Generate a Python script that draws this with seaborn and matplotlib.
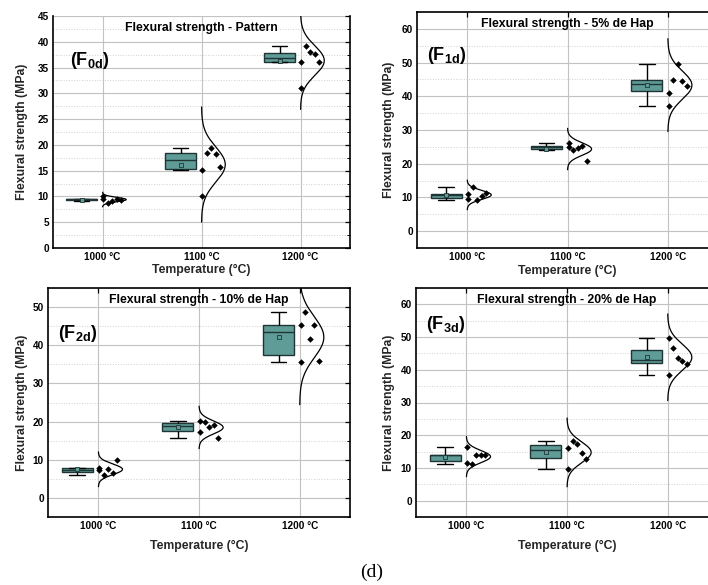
import numpy as np
import pandas as pd
import matplotlib
matplotlib.use('Agg')
import matplotlib.pyplot as plt
import matplotlib.transforms as mtransforms
from matplotlib.ticker import MultipleLocator
import seaborn as sns

# categories
temps = ['1000 °C', '1100 °C', '1200 °C']

# flexural strength (MPa), one list per temperature
f0d_1000 = [10.0, 8.7, 9.2, 9.55, 9.4, 9.5]
f0d_1100 = [15.2, 18.4, 19.3, 18.3, 15.8, 10.1]
f0d_1200 = [36.15, 39.2, 38.0, 37.6, 36.15, 31.0]

f1d_1000 = [11.0, 13.0, 9.3, 10.4, 11.2, 9.6]
f1d_1100 = [26.2, 24.2, 24.7, 25.2, 20.8, 25.0]
f1d_1200 = [41.0, 44.9, 49.5, 44.4, 43.0, 37.0]

f2d_1000 = [7.2, 5.9, 7.6, 6.5, 9.9, 7.85]
f2d_1100 = [20.2, 19.8, 18.7, 19.1, 15.7, 17.3]
f2d_1200 = [45.3, 48.7, 41.7, 45.3, 36.0, 35.6]

f3d_1000 = [16.3, 11.2, 13.9, 13.9, 13.9, 11.6]
f3d_1100 = [16.2, 18.2, 17.2, 14.6, 12.7, 9.6]
f3d_1200 = [49.8, 46.8, 43.5, 42.7, 41.8, 38.3]

titles = ['Flexural strength - Pattern', 'Flexural strength - 5% de Hap',
          'Flexural strength - 10% de Hap', 'Flexural strength - 20% de Hap']
tags = [r'(F$_{0d}$)', r'(F$_{1d}$)', r'(F$_{2d}$)', r'(F$_{3d}$)']

sns.set_theme(style='white')
plt.rcParams['font.family'] = ['Liberation Sans', 'DejaVu Sans']
plt.rcParams['font.weight'] = 'bold'
plt.rcParams['axes.labelweight'] = 'bold'
plt.rcParams['mathtext.default'] = 'regular'

W, H = 708, 585
fig = plt.figure(figsize=(W / 100, H / 100), dpi=100)

def px_rect(l, t, r, b):
    return [l / W, 1 - b / H, (r - l) / W, (b - t) / H]

# right-hand panels run past the page edge, as in the original
panels = [
    dict(vals=[f0d_1000, f0d_1100, f0d_1200], rect=px_rect(53, 16, 350, 248),
         ylim=(0, 45), step=5, tag_x=0.057, tag_y=0.81, ylab=25, xlab=16, top=False),
    dict(vals=[f1d_1000, f1d_1100, f1d_1200], rect=px_rect(417, 12, 718, 248),
         ylim=(-5, 65), step=10, tag_x=0.034, tag_y=0.815, ylab=22, xlab=17, top=True),
    dict(vals=[f2d_1000, f2d_1100, f2d_1200], rect=px_rect(48, 288, 350, 517),
         ylim=(-5, 55), step=10, tag_x=0.033, tag_y=0.80, ylab=20, xlab=23, top=True),
    dict(vals=[f3d_1000, f3d_1100, f3d_1200], rect=px_rect(416, 288, 718, 517),
         ylim=(-5, 65), step=10, tag_x=0.033, tag_y=0.84, ylab=21, xlab=23, top=True),
]

box_col = '#5f9b97'
edge_col = '#1f3535'

for k, p in enumerate(panels):
    ax = fig.add_axes(p['rect'])
    ax.set_axisbelow(True)

    box_rows, pt_rows = [], []
    for i, grp in enumerate(p['vals']):
        for j, v in enumerate(grp):
            box_rows.append((i - 0.21, v))
            pt_rows.append((i + 0.01 + 0.045 * (j % 5), v))
    df_box = pd.DataFrame(box_rows, columns=['pos', 'strength'])
    df_pts = pd.DataFrame(pt_rows, columns=['pos', 'strength'])

    sns.boxplot(data=df_box, x='pos', y='strength', native_scale=True, orient='x',
                width=0.31, color=box_col, saturation=1, linecolor=edge_col,
                linewidth=1.0, showfliers=False, showmeans=True,
                meanprops=dict(marker='s', markersize=2.6, markerfacecolor=box_col,
                               markeredgecolor=edge_col, markeredgewidth=0.6),
                whiskerprops=dict(color='black'), capprops=dict(color='black'),
                ax=ax)
    sns.scatterplot(data=df_pts, x='pos', y='strength', marker='D', s=11,
                    color='black', edgecolor='black', linewidth=0, ax=ax, zorder=4)

    # normal distribution curve from each group's mean and sd
    for i, grp in enumerate(p['vals']):
        m, s = np.mean(grp), np.std(grp, ddof=1)
        yy = np.linspace(m - 3.3 * s, m + 3.3 * s, 200)
        dens = np.exp(-0.5 * ((yy - m) / s) ** 2)
        ax.plot(i + 0.24 * dens, yy, color='black', lw=0.9, zorder=3)

    ax.set_xlim(-0.5, 2.5)
    ax.set_ylim(*p['ylim'])
    ax.set_xticks([0, 1, 2])
    ax.set_xticklabels(temps)
    ax.yaxis.set_major_locator(MultipleLocator(p['step']))
    ax.yaxis.set_minor_locator(MultipleLocator(p['step'] / 2))
    ax.grid(True, which='major', color='#c2c2c2', lw=0.8, ls='-')
    ax.grid(True, which='minor', axis='y', color='#cfcfcf', lw=0.7, ls=':')
    ax.tick_params(which='both', direction='in', top=p['top'], right=True,
                   labelsize=7.2, color='black', labelcolor='black', pad=3)
    ax.tick_params(which='major', length=3.5, width=0.9)
    ax.tick_params(which='minor', length=2, width=0.7)
    for side, sp in ax.spines.items():
        sp.set_color('black')
        sp.set_linewidth(1.2)
    if not p['top']:
        ax.spines['top'].set_visible(False)

    ax.set_xlabel('Temperature (°C)', fontsize=8.8)
    ax.set_ylabel('Flexural strength (MPa)', fontsize=8.8)
    axw = p['rect'][2] * W
    axh = p['rect'][3] * H
    ax.yaxis.set_label_coords(-p['ylab'] / axw, 0.5)
    blend = mtransforms.blended_transform_factory(ax.transData, ax.transAxes)
    ax.xaxis.set_label_coords(1, -p['xlab'] / axh, transform=blend)

    ax.text(1, 0.948, titles[k], transform=blend, ha='center', va='center',
            fontsize=8.8, fontweight='bold', color='black')
    ax.text(p['tag_x'], p['tag_y'], tags[k], transform=ax.transAxes,
            ha='left', va='center', fontsize=13, fontweight='bold', color='black')

fig.text(372 / W, 1 - 572 / H, '(d)', family=['Liberation Serif', 'DejaVu Serif'],
         fontweight='normal', fontsize=14, ha='center', va='center', color='black')

fig.savefig('out.png', dpi=100)
